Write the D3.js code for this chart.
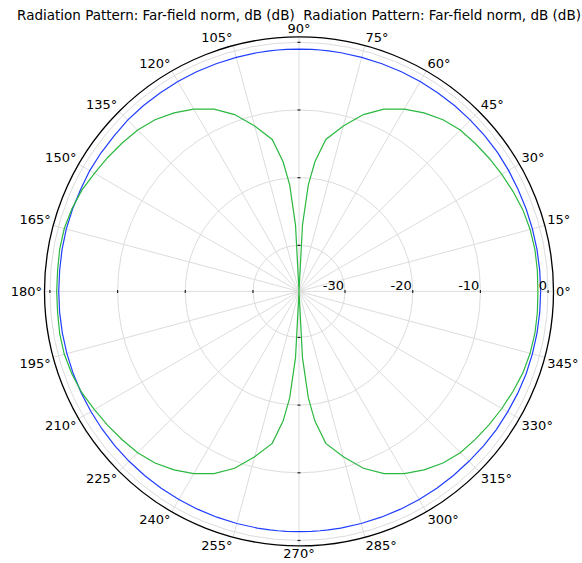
<!DOCTYPE html>
<html>
<head>
<meta charset="utf-8">
<script src="https://cdn.jsdelivr.net/npm/d3@7"></script>
<style>
  html, body { margin: 0; padding: 0; background: #fff; }
  svg { display: block; font-family: "DejaVu Sans", sans-serif; }
</style>
</head>
<body>
<svg id="chart" width="582" height="563"></svg>
<script>
// ---- data ----
const titleText = "Radiation Pattern: Far-field norm, dB (dB)\u00a0\u00a0Radiation Pattern: Far-field norm, dB (dB)";
const angleTicks = [0,15,30,45,60,75,90,105,120,135,150,165,180,195,210,225,240,255,270,285,300,315,330,345];
const radialTicks = [-30, -20, -10, 0];
const radialTickLabels = ["-30", "-20", "-10", "0"];
const radialDomain = [-36.8, 0.8];

// sample angles (degrees) for both series
const angles = [0,5,10,15,20,25,30,35,40,45,50,55,60,65,70,75,80,83,85,87,90,
  93,95,97,100,105,110,115,120,125,130,135,140,145,150,155,160,165,170,175,180,
  185,190,195,200,205,210,215,220,225,230,235,240,245,250,255,260,263,265,267,270,
  273,275,277,280,285,290,295,300,305,310,315,320,325,330,335,340,345,350,355,360];

// green series (dB)
const greenDb = [-1.5,-1.45,-1.4,-1.45,-1.6,-1.9,-2.2,-2.5,-2.8,-3.1,-3.7,-4.6,-5.7,-7.1,-9.0,-11.5,-14.0,-17.5,-21.0,-27.0,-45,
  -27.0,-21.0,-17.5,-14.0,-11.5,-9.0,-7.1,-5.7,-4.6,-3.7,-3.1,-2.7,-2.3,-1.9,-1.4,-1.1,-0.9,-0.9,-1.0,-1.0,
  -1.0,-0.9,-0.9,-1.1,-1.4,-1.9,-2.3,-2.7,-3.1,-3.7,-4.6,-5.7,-7.1,-9.0,-11.5,-14.0,-17.5,-21.0,-27.0,-45,
  -27.0,-21.0,-17.5,-14.0,-11.5,-9.0,-7.1,-5.7,-4.6,-3.7,-3.1,-2.8,-2.5,-2.2,-1.9,-1.6,-1.45,-1.4,-1.45,-1.5];

// blue series (dB)
const blueDb = [-1.1,-1.1,-1.1,-1.1,-1.1,-1.1,-1.05,-1.0,-1.0,-1.0,-1.0,-1.0,-1.0,-1.0,-1.0,-1.0,-1.0,-1.0,-1.0,-1.0,-1.0,
  -1.0,-1.0,-1.0,-1.0,-1.0,-1.0,-1.0,-1.0,-1.0,-1.0,-1.0,-1.1,-1.1,-1.1,-1.2,-1.2,-1.2,-1.25,-1.3,-1.3,
  -1.3,-1.3,-1.3,-1.3,-1.3,-1.3,-1.3,-1.3,-1.3,-1.3,-1.3,-1.3,-1.3,-1.3,-1.3,-1.3,-1.3,-1.3,-1.3,-1.3,
  -1.3,-1.3,-1.3,-1.3,-1.3,-1.3,-1.3,-1.3,-1.3,-1.3,-1.3,-1.25,-1.2,-1.2,-1.15,-1.1,-1.1,-1.1,-1.1,-1.1];

// ---- layout ----
const svg = d3.select("#chart");
const cx = 299, cy = 291.4, R = 254.5;
const rScale = d3.scaleLinear().domain(radialDomain).range([0, R]).clamp(true);
const toRad = d => d * Math.PI / 180;

svg.append("text")
  .attr("x", cx).attr("y", 19.5)
  .attr("text-anchor", "middle")
  .attr("font-size", 13.5)
  .attr("fill", "#000")
  .text(titleText);

const g = svg.append("g").attr("transform", `translate(${cx},${cy})`);

// grid circles
g.selectAll("circle.grid").data(radialTicks).join("circle")
  .attr("class", "grid")
  .attr("r", d => rScale(d))
  .attr("fill", "none").attr("stroke", "#dcdcdc").attr("stroke-width", 1);

// spokes
g.selectAll("line.spoke").data(angleTicks).join("line")
  .attr("x1", 0).attr("y1", 0)
  .attr("x2", d => R * Math.cos(toRad(d)))
  .attr("y2", d => -R * Math.sin(toRad(d)))
  .attr("stroke", "#dcdcdc").attr("stroke-width", 1);

// small tick marks on main axes
const axisAngles = [0, 90, 180, 270];
const tickData = [];
axisAngles.forEach(a => radialTicks.forEach(v => tickData.push({a, v})));
g.selectAll("line.tk").data(tickData).join("line")
  .attr("x1", d => rScale(d.v) * Math.cos(toRad(d.a)) - 1.5 * Math.sin(toRad(d.a)))
  .attr("y1", d => -rScale(d.v) * Math.sin(toRad(d.a)) - 1.5 * Math.cos(toRad(d.a)))
  .attr("x2", d => rScale(d.v) * Math.cos(toRad(d.a)) + 1.5 * Math.sin(toRad(d.a)))
  .attr("y2", d => -rScale(d.v) * Math.sin(toRad(d.a)) + 1.5 * Math.cos(toRad(d.a)))
  .attr("stroke", "#222").attr("stroke-width", 1.2);

// series
const radialLine = d3.lineRadial()
  .angle(d => toRad(90 - d[0]))
  .radius(d => rScale(d[1]))
  .curve(d3.curveLinear);

g.append("path")
  .datum(angles.map((a, i) => [a, blueDb[i]]))
  .attr("d", radialLine)
  .attr("fill", "none").attr("stroke", "#1f3dff").attr("stroke-width", 1.2);

g.append("path")
  .datum(angles.map((a, i) => [a, greenDb[i]]))
  .attr("d", radialLine)
  .attr("fill", "none").attr("stroke", "#2bb83f").attr("stroke-width", 1.2);

// outer circle
g.append("circle").attr("r", R).attr("fill", "none").attr("stroke", "#000").attr("stroke-width", 1.3);

// radial labels
g.selectAll("text.rl").data(radialTicks).join("text")
  .attr("x", d => rScale(d) - 1)
  .attr("y", -1.5)
  .attr("text-anchor", "end")
  .attr("font-size", 13)
  .attr("fill", "#000")
  .text((d, i) => radialTickLabels[i]);

// angle labels
const Rl = R + 2.5;
g.selectAll("text.al").data(angleTicks).join("text")
  .each(function(d) {
    const c = Math.cos(toRad(d)), s = Math.sin(toRad(d));
    const x = Rl * c, y = -Rl * s;
    let anchor = Math.abs(c) < 1e-6 ? "middle" : (c > 0 ? "start" : "end");
    let dy;
    if (Math.abs(s) < 1e-6) dy = 4.7;
    else if (s > 0) dy = -1;
    else dy = 10;
    d3.select(this).attr("x", x).attr("y", y + dy).attr("text-anchor", anchor);
  })
  .attr("font-size", 13)
  .attr("fill", "#000")
  .text(d => d + "°");
</script>
</body>
</html>
